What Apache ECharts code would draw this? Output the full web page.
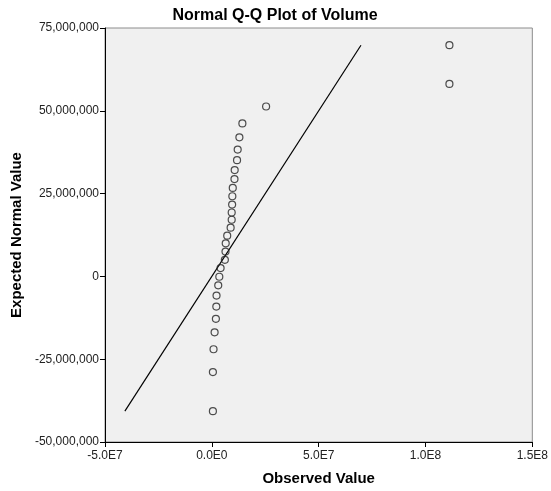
<!DOCTYPE html>
<html>
<head>
<meta charset="utf-8">
<script src="https://cdn.jsdelivr.net/npm/echarts@6/dist/echarts.min.js"></script>
<style>
  html, body { margin: 0; padding: 0; background: #fff; }
  #chart { width: 551px; height: 491px; }
</style>
</head>
<body>
<div id="chart"></div>
<script>
const observed = [
  0.5e6, 0.5e6, 0.8e6, 1.3e6, 1.9e6, 2.1e6, 2.2e6, 3.0e6, 3.5e6, 4.1e6,
  6.1e6, 6.4e6, 6.5e6, 7.2e6, 8.8e6, 9.3e6, 9.3e6, 9.5e6, 9.6e6, 9.8e6,
  10.6e6, 10.7e6, 11.8e6, 12.1e6, 12.9e6, 14.3e6, 25.4e6, 111.2e6, 111.2e6
]
const expected = [
  -40.7e6, -28.9e6, -22.0e6, -16.9e6, -12.8e6, -9.1e6, -5.8e6, -2.7e6, -0.1e6, 2.5e6,
  5.0e6, 7.5e6, 10.0e6, 12.3e6, 14.7e6, 17.1e6, 19.3e6, 21.7e6, 24.2e6, 26.7e6,
  29.4e6, 32.1e6, 35.1e6, 38.3e6, 42.0e6, 46.2e6, 51.3e6, 58.1e6, 69.8e6
]
// reference line y = x
const lineEnds = [-40.7e6, 69.8e6]

const xTicks = { min: -5e7, max: 1.5e8, interval: 5e7 }
const yTicks = { min: -5e7, max: 7.5e7, interval: 2.5e7 }

const chart = echarts.init(document.getElementById('chart'))
const font = '"Liberation Sans", Arial, sans-serif'

const option = {
  backgroundColor: '#fff',
  animation: false,
  title: {
    text: 'Normal Q-Q Plot of Volume',
    left: 270,
    textAlign: 'center',
    top: 3,
    textStyle: { fontFamily: font, fontSize: 16, fontWeight: 'bold', color: '#000' },
  },
  grid: {
    left: 105,
    right: 14,
    top: 28,
    bottom: 47,
    show: true,
    backgroundColor: '#f0f0f0',
    borderColor: '#8c8c8c',
    borderWidth: 1,
  },
  xAxis: {
    type: 'value',
    min: xTicks.min,
    max: xTicks.max,
    interval: xTicks.interval,
    name: 'Observed Value',
    nameLocation: 'middle',
    nameGap: 29,
    nameTextStyle: { fontFamily: font, fontSize: 15, fontWeight: 'bold', color: '#000' },
    axisLine: { show: true, onZero: false, lineStyle: { color: '#000', width: 1 } },
    axisTick: { show: true, inside: false, length: 5, lineStyle: { color: '#000' } },
    splitLine: { show: false },
    axisLabel: {
      fontFamily: font,
      fontSize: 12,
      color: '#222',
      margin: 8,
      formatter: (v) => Math.abs(v) < 1 ? '0.0E0' : v.toExponential(1).toUpperCase().replace('E+', 'E'),
    },
  },
  yAxis: {
    type: 'value',
    min: yTicks.min,
    max: yTicks.max,
    interval: yTicks.interval,
    name: 'Expected Normal Value',
    nameLocation: 'middle',
    nameGap: 79,
    nameTextStyle: { fontFamily: font, fontSize: 15, fontWeight: 'bold', color: '#000' },
    axisLine: { show: true, onZero: false, lineStyle: { color: '#000', width: 1 } },
    axisTick: { show: true, inside: false, length: 5, lineStyle: { color: '#000' } },
    splitLine: { show: false },
    axisLabel: {
      fontFamily: font,
      fontSize: 12,
      color: '#222',
      margin: 6,
      formatter: (v) => v.toLocaleString('en-US'),
    },
  },
  series: [
    {
      type: 'line',
      data: lineEnds.map((v) => [v, v]),
      symbol: 'none',
      lineStyle: { color: '#000', width: 1.2 },
      z: 2,
    },
    {
      type: 'scatter',
      data: observed.map((x, i) => [x, expected[i]]),
      symbol: 'circle',
      symbolSize: 7,
      itemStyle: { color: 'rgba(0,0,0,0)', borderColor: '#222', borderWidth: 1.2 },
      z: 3,
    },
  ],
}

chart.setOption(option)
</script>
</body>
</html>
